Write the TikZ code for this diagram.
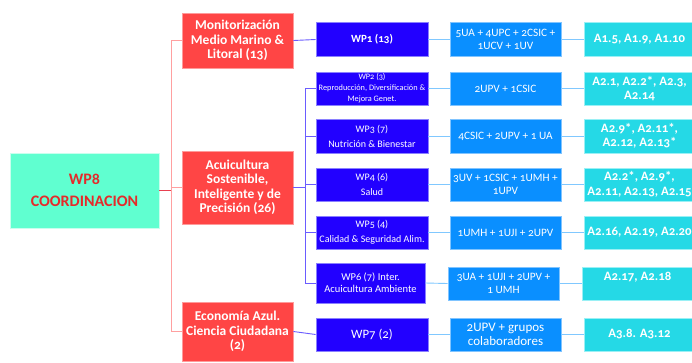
\documentclass[tikz,border=0pt]{standalone}
\usepackage{fontspec}
\setmainfont{Carlito}[Numbers=OldStyle]
\definecolor{redfill}{HTML}{FF4545}
\definecolor{redborder}{HTML}{FF9A9A}
\definecolor{mintfill}{HTML}{60FFD0}
\definecolor{mintborder}{HTML}{C8FFEE}
\definecolor{wpred}{HTML}{E52A2A}
\definecolor{bluefill}{HTML}{2200FF}
\definecolor{blueborder}{HTML}{8A80FF}
\definecolor{midfill}{HTML}{0A8FFF}
\definecolor{midborder}{HTML}{80C4FF}
\definecolor{cyanfill}{HTML}{25D9E6}
\definecolor{cyanborder}{HTML}{9AF0F5}
\definecolor{redline}{HTML}{FFA0A0}
\definecolor{reddark}{HTML}{E84050}
\definecolor{blueline}{HTML}{6A5CFF}
\definecolor{lbline}{HTML}{80C8FF}
\tikzset{
  box/.style={rectangle, inner sep=1pt, align=center, text=white, line width=0.8pt},
  rootbox/.style={box, fill=mintfill, draw=mintborder, minimum width=149pt, minimum height=75pt, text=wpred, font=\bfseries\fontsize{16}{22}\selectfont},
  redbox/.style={box, fill=redfill, draw=redborder, minimum width=111pt, font=\bfseries\fontsize{13.5}{14.5}\selectfont},
  wpbox/.style={box, fill=bluefill, draw=blueborder, minimum width=112pt, minimum height=34pt},
  midbox/.style={box, fill=midfill, draw=midborder, minimum width=111pt, minimum height=34pt, font=\fontsize{11.3}{13}\selectfont},
  actbox/.style={box, fill=cyanfill, draw=cyanborder, minimum width=111pt, minimum height=34pt, font=\bfseries\fontsize{12.8}{14.5}\selectfont},
  rl/.style={draw=redline, line width=0.9pt},
  rd/.style={draw=reddark, line width=1pt},
  bl/.style={draw=blueline, line width=0.9pt},
  lb/.style={draw=lbline, line width=0.9pt}
}
\begin{document}
\begin{tikzpicture}[x=1pt,y=-1pt]
\clip (0,0) rectangle (692,362);
\fill[white] (0,0) rectangle (692,362);

\node[rootbox] (wp8) at (84.5,190.5) {WP8\\COORDINACION};

\node[redbox, minimum height=55pt] (mon) at (237.5,40.5) {Monitorización\\Medio Marino \&\\Litoral (13)};
\node[redbox, minimum height=73pt] (acu) at (237.5,187.5) {Acuicultura\\Sostenible,\\Inteligente y de\\Precisión (26)};
\node[redbox, minimum height=59pt] (eco) at (237.5,331.5) {Economía Azul.\\Ciencia Ciudadana\\(2)};

\node[wpbox, font=\bfseries\fontsize{11}{12}\selectfont] (wp1) at (372,39.5) {WP1 (13)};
\node[wpbox, minimum height=33pt, font=\fontsize{8.3}{11}\selectfont] (wp2) at (372,88.5) {WP2 (3)\\Reproducción, Diversificación \&\\Mejora Genet.};
\node[wpbox, font=\fontsize{10}{15}\selectfont] (wp3) at (372,136) {WP3 (7)\\Nutrición \& Bienestar};
\node[wpbox, minimum height=33pt, font=\fontsize{10}{15}\selectfont] (wp4) at (372,184.5) {WP4 (6)\\Salud};
\node[wpbox, minimum height=33pt, font=\fontsize{10}{15}\selectfont] (wp5) at (372,232.5) {WP5 (4)\\Calidad \& Seguridad Alim.};
\node[wpbox, minimum width=109pt, minimum height=40pt, font=\fontsize{10.5}{12}\selectfont] (wp6) at (370.5,283) {WP6 (7) Inter.\\Acuicultura Ambiente};
\node[wpbox, minimum height=33pt, font=\fontsize{12.8}{14}\selectfont] (wp7) at (372,334.5) {WP7 (2)};

\node[midbox] (m1) at (505.5,39.5) {5UA + 4UPC + 2CSIC +\\1UCV + 1UV};
\node[midbox, minimum height=33pt] (m2) at (505.5,88.5) {2UPV + 1CSIC};
\node[midbox] (m3) at (505.5,136) {4CSIC + 2UPV + 1 UA};
\node[midbox, minimum height=33pt] (m4) at (505.5,184.5) {3UV + 1CSIC + 1UMH +\\1UPV};
\node[midbox, minimum height=33pt] (m5) at (505.5,232.5) {1UMH + 1UJI + 2UPV};
\node[midbox, minimum height=33pt] (m6) at (503.5,283.5) {3UA + 1UJI + 2UPV +\\1 UMH};
\node[midbox, minimum height=33pt, font=\fontsize{13}{14}\selectfont] (m7) at (505.5,334.5) {2UPV + grupos\\colaboradores};

\node[actbox] (a1) at (639.5,39.5) {A1.5, A1.9, A1.10};
\node[actbox, minimum height=33pt] (a2) at (639.5,88.5) {A2.1, A2.2*, A2.3,\\A2.14};
\node[actbox] (a3) at (639.5,136) {A2.9*, A2.11*,\\A2.12, A2.13*};
\node[actbox, minimum height=33pt] (a4) at (639.5,184.5) {A2.2*, A2.9*,\\A2.11, A2.13, A2.15};
\node[actbox, minimum height=33pt] (a5) at (639.5,232.5) {A2.16, A2.19, A2.20};
\node[actbox, minimum height=33pt] (a6) at (637.5,283.5) {A2.17, A2.18\\\mbox{}};
\node[actbox, minimum height=33pt] (a7) at (639.5,334.5) {A3.8. A3.12};

% red connectors
\draw[rd] (wp8.east) -- ++(12,0) coordinate (rm);
\draw[rl] (mon.west) -| (rm);
\draw[rl] (eco.west) -| (rm);
\draw[rl] (acu.west) -- (acu.west -| rm);

% blue connectors
\draw[bl] (mon.east) -- (wp1.west);
\draw[bl] (eco.east) -- (wp7.west);
\draw[bl] (acu.east) -- ++(12,0) coordinate (bt);
\draw[bl] (wp2.west) -| (bt);
\draw[bl] (wp6.west) -| (bt);
\draw[bl] (wp3.west) -- (wp3.west -| bt);
\draw[bl] (wp4.west) -- (wp4.west -| bt);
\draw[bl] (wp5.west) -- (wp5.west -| bt);

% light blue connectors
\foreach \i in {1,...,7}{
  \draw[lb] (wp\i.east) -- (m\i.west);
  \draw[lb] (m\i.east) -- (a\i.west);
}
\end{tikzpicture}
\end{document}
